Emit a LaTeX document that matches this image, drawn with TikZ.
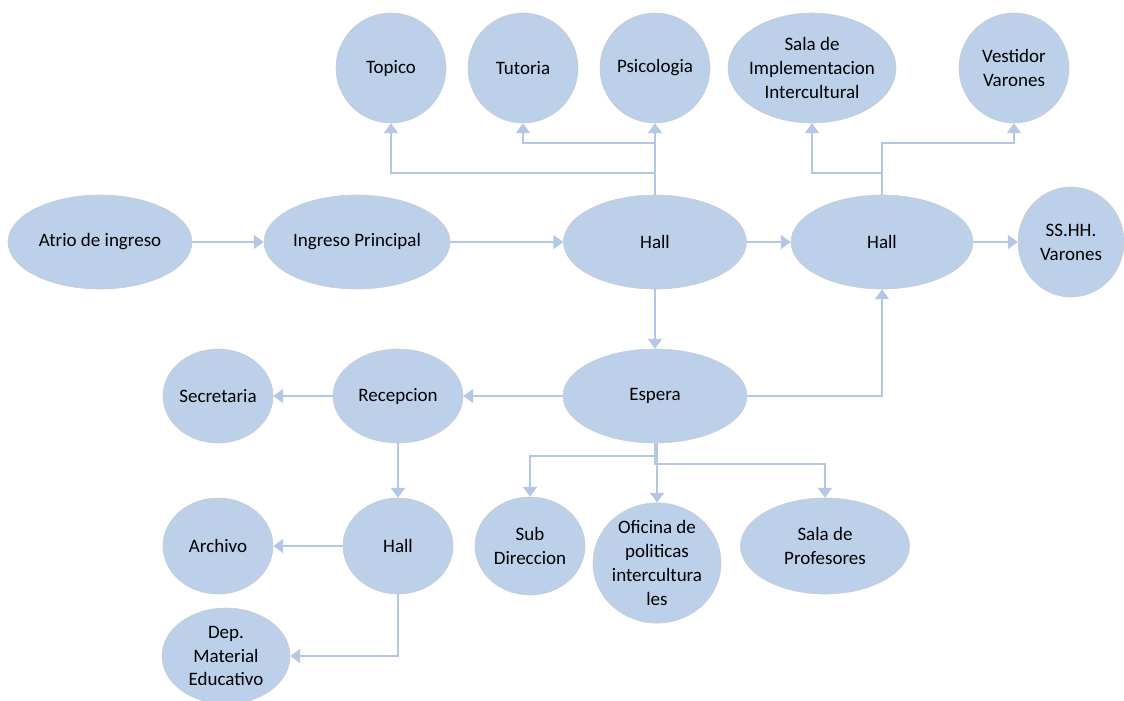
\documentclass[tikz,border=0pt]{standalone}
\usepackage{fontspec}
\setmainfont{Carlito}
\usetikzlibrary{shapes.geometric, arrows.meta, positioning}
\definecolor{roomblue}{HTML}{BCD0E9}
\definecolor{roomedge}{HTML}{C9CDD3}
\definecolor{flowblue}{HTML}{B4C8E6}

\begin{document}
\begin{tikzpicture}[
    x=0.025cm, y=-0.025cm,
    room/.style={ellipse, draw=roomedge, fill=roomblue, inner sep=0pt, align=center, font=\fontsize{13.5}{17}\selectfont, minimum width=2.75cm, minimum height=2.75cm},
    wide/.style={room, minimum width=4.6cm, minimum height=2.35cm},
    arrow/.style={-{Triangle[length=7pt, width=10pt]}, draw=flowblue, line width=1.2pt}
]
\useasboundingbox (0,0) rectangle (1124,700);

% main row
\node[wide] (atrio) at (100,242) {Atrio de ingreso};
\node[wide, minimum width=4.65cm] (ingreso) at (357,242) {Ingreso Principal};
\node[wide, minimum width=4.575cm] (hallA) at (655,242) {Hall};
\node[wide, minimum width=4.55cm] (hallB) at (882,242) {Hall};
\node[room, minimum width=2.65cm] (sshh) at (1071,242) {SS.HH.\\Varones};

% upper rooms
\node[room] (topico) at (391,68) {Topico};
\node[room] (tutoria) at (523,68) {Tutoria};
\node[room] (psico) at (655,68) {Psicologia};
\node[room, minimum width=4.2cm] (salaimp) at (812,68) {Sala de\\\makebox[2.6cm]{Implementacion}\\Intercultural};
\node[room] (vestidor) at (1014,68) {Vestidor\\Varones};

% lower part
\node[wide] (espera) at (655,396) {Espera};
\node[room, minimum width=3.25cm, minimum height=2.35cm] (recepcion) at (398,396) {Recepcion};
\node[room, minimum height=2.35cm] (secretaria) at (218,396) {Secretaria};
\node[room, minimum height=2.4cm] (hallC) at (398,546) {Hall};
\node[room, minimum height=2.4cm] (archivo) at (218,546) {Archivo};
\node[room, minimum width=3.2cm, minimum height=2.4cm] (dep) at (226,656) {Dep.\\Material\\Educativo};
\node[room, minimum height=2.45cm] (subdir) at (530,546) {Sub\\Direccion};
\node[room, minimum width=3.2cm] (oficina) at (657,563) {Oficina de\\politicas\\intercultura\\les};
\node[room, minimum width=4.225cm, minimum height=2.4cm] (salaprof) at (825,546) {Sala de\\Profesores};

\draw[arrow] (atrio) -- (ingreso);
\draw[arrow] (ingreso) -- (hallA);
\draw[arrow] (hallA) -- (hallB);
\draw[arrow] (hallB) -- (sshh);

\draw[arrow] (hallA.north) -- ++(0,-22) -| (topico.south);
\draw[arrow] (hallA.north) -- ++(0,-52) -| (tutoria.south);
\draw[arrow] (hallA.north) -- (psico.south);
\draw[arrow] (hallB.north) -- ++(0,-22) -| (salaimp.south);
\draw[arrow] (hallB.north) -- ++(0,-52) -| (vestidor.south);

\draw[arrow] (hallA) -- (espera);
\draw[arrow] (espera.east) -| (hallB.south);
\draw[arrow] (espera) -- (recepcion);
\draw[arrow] (recepcion) -- (secretaria);
\draw[arrow] (recepcion) -- (hallC);
\draw[arrow] (hallC) -- (archivo);
\draw[arrow] (hallC.south) |- (dep.east);

\draw[arrow] (espera.south) -- ++(0,13) -| (subdir.north);
\draw[arrow] (espera.south) -- ++(0,21) -| (salaprof.north);
\draw[arrow] (espera.south -| oficina.north) -- (oficina.north);

\end{tikzpicture}
\end{document}
